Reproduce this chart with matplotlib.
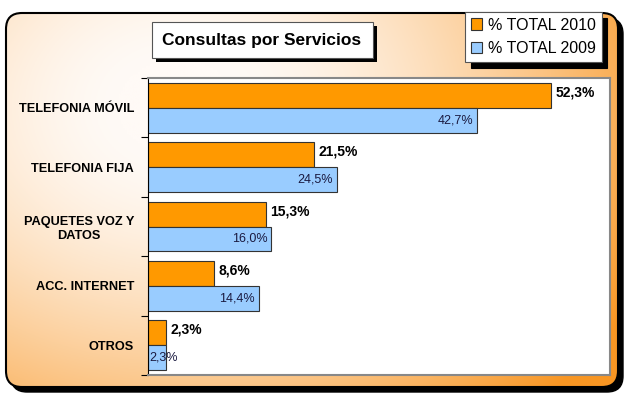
import numpy as np
import matplotlib.pyplot as plt
from matplotlib.patches import FancyBboxPatch, Rectangle

plt.rcParams['font.family'] = ['Liberation Sans', 'DejaVu Sans']

# Datos
categorias = ['TELEFONIA MÓVIL', 'TELEFONIA FIJA', 'PAQUETES VOZ Y\nDATOS',
              'ACC. INTERNET', 'OTROS']
total_2010 = [52.3, 21.5, 15.3, 8.6, 2.3]
total_2009 = [42.7, 24.5, 16.0, 14.4, 2.3]
etiquetas_2010 = ['52,3%', '21,5%', '15,3%', '8,6%', '2,3%']
etiquetas_2009 = ['42,7%', '24,5%', '16,0%', '14,4%', '2,3%']

W, H = 631, 401
fig = plt.figure(figsize=(W / 100, H / 100), dpi=100)

# Fondo con degradado y marco redondeado
bg = fig.add_axes([0, 0, 1, 1], zorder=-1)
bg.set_xlim(0, W)
bg.set_ylim(H, 0)
bg.axis('off')

sombra = FancyBboxPatch((11, 18), 612, 374, boxstyle='round,pad=0,rounding_size=16',
                        facecolor='black', edgecolor='black')
bg.add_patch(sombra)

marco = FancyBboxPatch((6, 13), 612, 374, boxstyle='round,pad=0,rounding_size=16',
                       facecolor='none', edgecolor='black', linewidth=1.5)
gx, gy = np.meshgrid(np.linspace(0, 1, 300), np.linspace(0, 1, 200))
d = np.sqrt(((gx - 0.28) / 1.0) ** 2 + ((gy - 0.25) / 1.3) ** 2)
t = np.clip((d - 0.1) / 0.75, 0, 1) ** 1.5
c0 = np.array([255, 250, 246]) / 255
c1 = np.array([248, 150, 35]) / 255
img = c0 + (c1 - c0) * t[..., None]
im = bg.imshow(img, extent=(6, 618, 387, 13), aspect='auto', zorder=1)
clip = FancyBboxPatch((6, 13), 612, 374, boxstyle='round,pad=0,rounding_size=16',
                      facecolor='none', edgecolor='none', transform=bg.transData)
bg.add_patch(clip)
im.set_clip_path(clip)
marco.set_zorder(2)
bg.add_patch(marco)

# Título en caja con sombra
bg.add_patch(Rectangle((156, 26), 221, 36, facecolor='black', zorder=3))
bg.add_patch(Rectangle((152, 22), 221, 36, facecolor='white', edgecolor='#555555',
                       linewidth=0.8, zorder=4))
bg.text(262, 40, 'Consultas por Servicios', ha='center', va='center',
        fontsize=12.5, fontweight='bold', zorder=5)

# Gráfico de barras
ax = fig.add_axes([148 / W, 1 - 375 / H, 462 / W, 297 / H])
y = np.arange(len(categorias))
h = 0.42
b10 = ax.barh(y - h / 2, total_2010, height=h, color='#FF9900', edgecolor='#333333',
              linewidth=0.8, label='% TOTAL 2010')
b09 = ax.barh(y + h / 2, total_2009, height=h, color='#99CCFF', edgecolor='#333333',
              linewidth=0.8, label='% TOTAL 2009')

for v, lab, yy in zip(total_2010, etiquetas_2010, y - h / 2):
    ax.text(v + 0.6, yy - 0.05, lab, ha='left', va='center', fontsize=10,
            fontweight='bold')
for v, lab, yy in zip(total_2009, etiquetas_2009, y + h / 2):
    if v < 5:
        ax.text(0.2, yy, lab, ha='left', va='center', fontsize=9, color='#1a1a40')
    else:
        ax.text(v - 0.5, yy, lab, ha='right', va='center', fontsize=9, color='#1a1a40')

ax.set_xlim(0, 60)
ax.set_ylim(len(categorias) - 0.5, -0.5)
ax.set_xticks([])
ax.set_yticks(np.arange(-0.5, len(categorias), 1.0))
ax.set_yticklabels([])
ax.tick_params(axis='y', which='major', length=5, direction='out', width=0.8)
ax.set_yticks(y, minor=True)
ax.set_yticklabels(categorias, minor=True, fontsize=9.2, fontweight='bold',
                   multialignment='center')
ax.tick_params(axis='y', which='minor', length=0, pad=10)
for s in ['top', 'right', 'bottom']:
    ax.spines[s].set_color('#888888')
    ax.spines[s].set_linewidth(1.5)
ax.spines['left'].set_color('black')
ax.spines['left'].set_linewidth(0.8)

# Leyenda
leg = fig.legend(handles=[b10, b09], loc='upper left',
                 bbox_to_anchor=(465 / W, 1 - 12 / H), fontsize=11.5,
                 fancybox=False, edgecolor='#555555', framealpha=1,
                 shadow={'color': 'black', 'alpha': 1, 'ox': 4, 'oy': -4},
                 handlelength=0.7, handleheight=0.7, handletextpad=0.4,
                 borderpad=0.35, labelspacing=0.55, borderaxespad=0)
leg.get_frame().set_linewidth(0.8)

fig.savefig('out.png', dpi=100)
